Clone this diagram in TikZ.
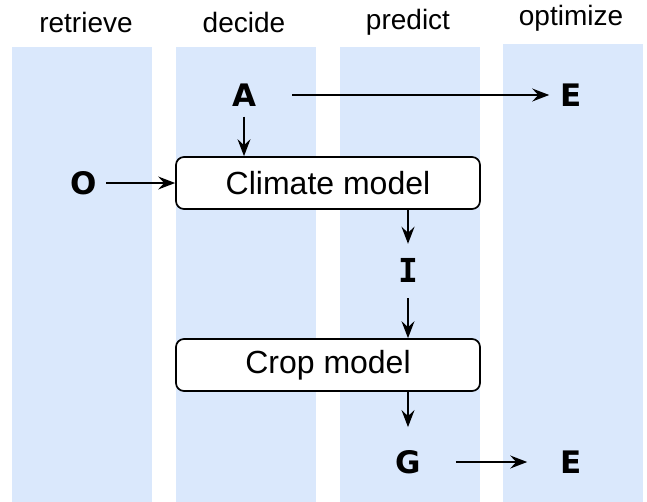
\documentclass[tikz,border=0pt]{standalone}
\usepackage{fontspec}
\setmainfont{Liberation Sans}
\newfontfamily\varfont{DejaVu Sans}
\newfontfamily\varmono{DejaVu Sans Mono}
\usetikzlibrary{arrows.meta,positioning}
\definecolor{lanefill}{HTML}{DAE8FC}

\begin{document}
\begin{tikzpicture}[x=1pt,y=-1pt,
    lane/.style={fill=lanefill,draw=none,anchor=north,inner sep=0pt,minimum width=140pt,minimum height=457pt},
    title/.style={font=\fontsize{28}{30}\selectfont,inner sep=0pt},
    var/.style={font=\varfont\bfseries\fontsize{31}{33}\selectfont,inner sep=0pt},
    model/.style={draw,rounded corners=8pt,line width=1.7pt,fill=white,inner sep=0pt,
      minimum width=304pt,minimum height=52pt,font=\fontsize{32}{34}\selectfont},
    arr/.style={line width=1.5pt,-{Stealth[length=17pt,width=13pt,inset=6pt]}}]

      \useasboundingbox (0,0) rectangle (647,501);

      % lanes
      \node[lane] (retrieve) at (82,47) {};
      \node[lane] (decide) at (246,47) {};
      \node[lane] (predict) at (410,47) {};
      \node[lane,minimum height=460pt] (optimize) at (573,44) {};

      \node[title] () at (86,22) {retrieve};
      \node[title] () at (244,22) {decide};
      \node[title] () at (408,22) {predict};
      \node[title] () at (571,18) {optimize};

      % models
      \node[model] (climate) at (328,183) {Climate model};
      \node[model] (crop) at (328,365) {Crop model};

      % variables
      \node[var] (A) at (244,95) {A};
      \node[var] (E1) at (571,95) {E};
      \node[var] (O) at (84,183) {O};
      \node[var,font=\varmono\bfseries\fontsize{33}{35}\selectfont] (I) at (408,270) {I};
      \node[var] (G) at (408,462) {G};
      \node[var] (E2) at (571,462) {E};

      \draw[arr,shorten <=36pt,shorten >=11pt] (A) -- (E1);
      \draw[arr,shorten <=10pt] (A) -- (climate.north -| A);
      \draw[arr,shorten <=9pt] (O) -- (climate);
      \draw[arr,shorten >=14pt] (climate.south -| I) -- (I);
      \draw[arr,shorten <=16pt] (I) -- (crop.north -| I);
      \draw[arr,shorten >=23pt] (crop.south -| G) -- (G);
      \draw[arr,shorten <=35pt,shorten >=33pt] (G) -- (E2);

    \end{tikzpicture}
\end{document}
